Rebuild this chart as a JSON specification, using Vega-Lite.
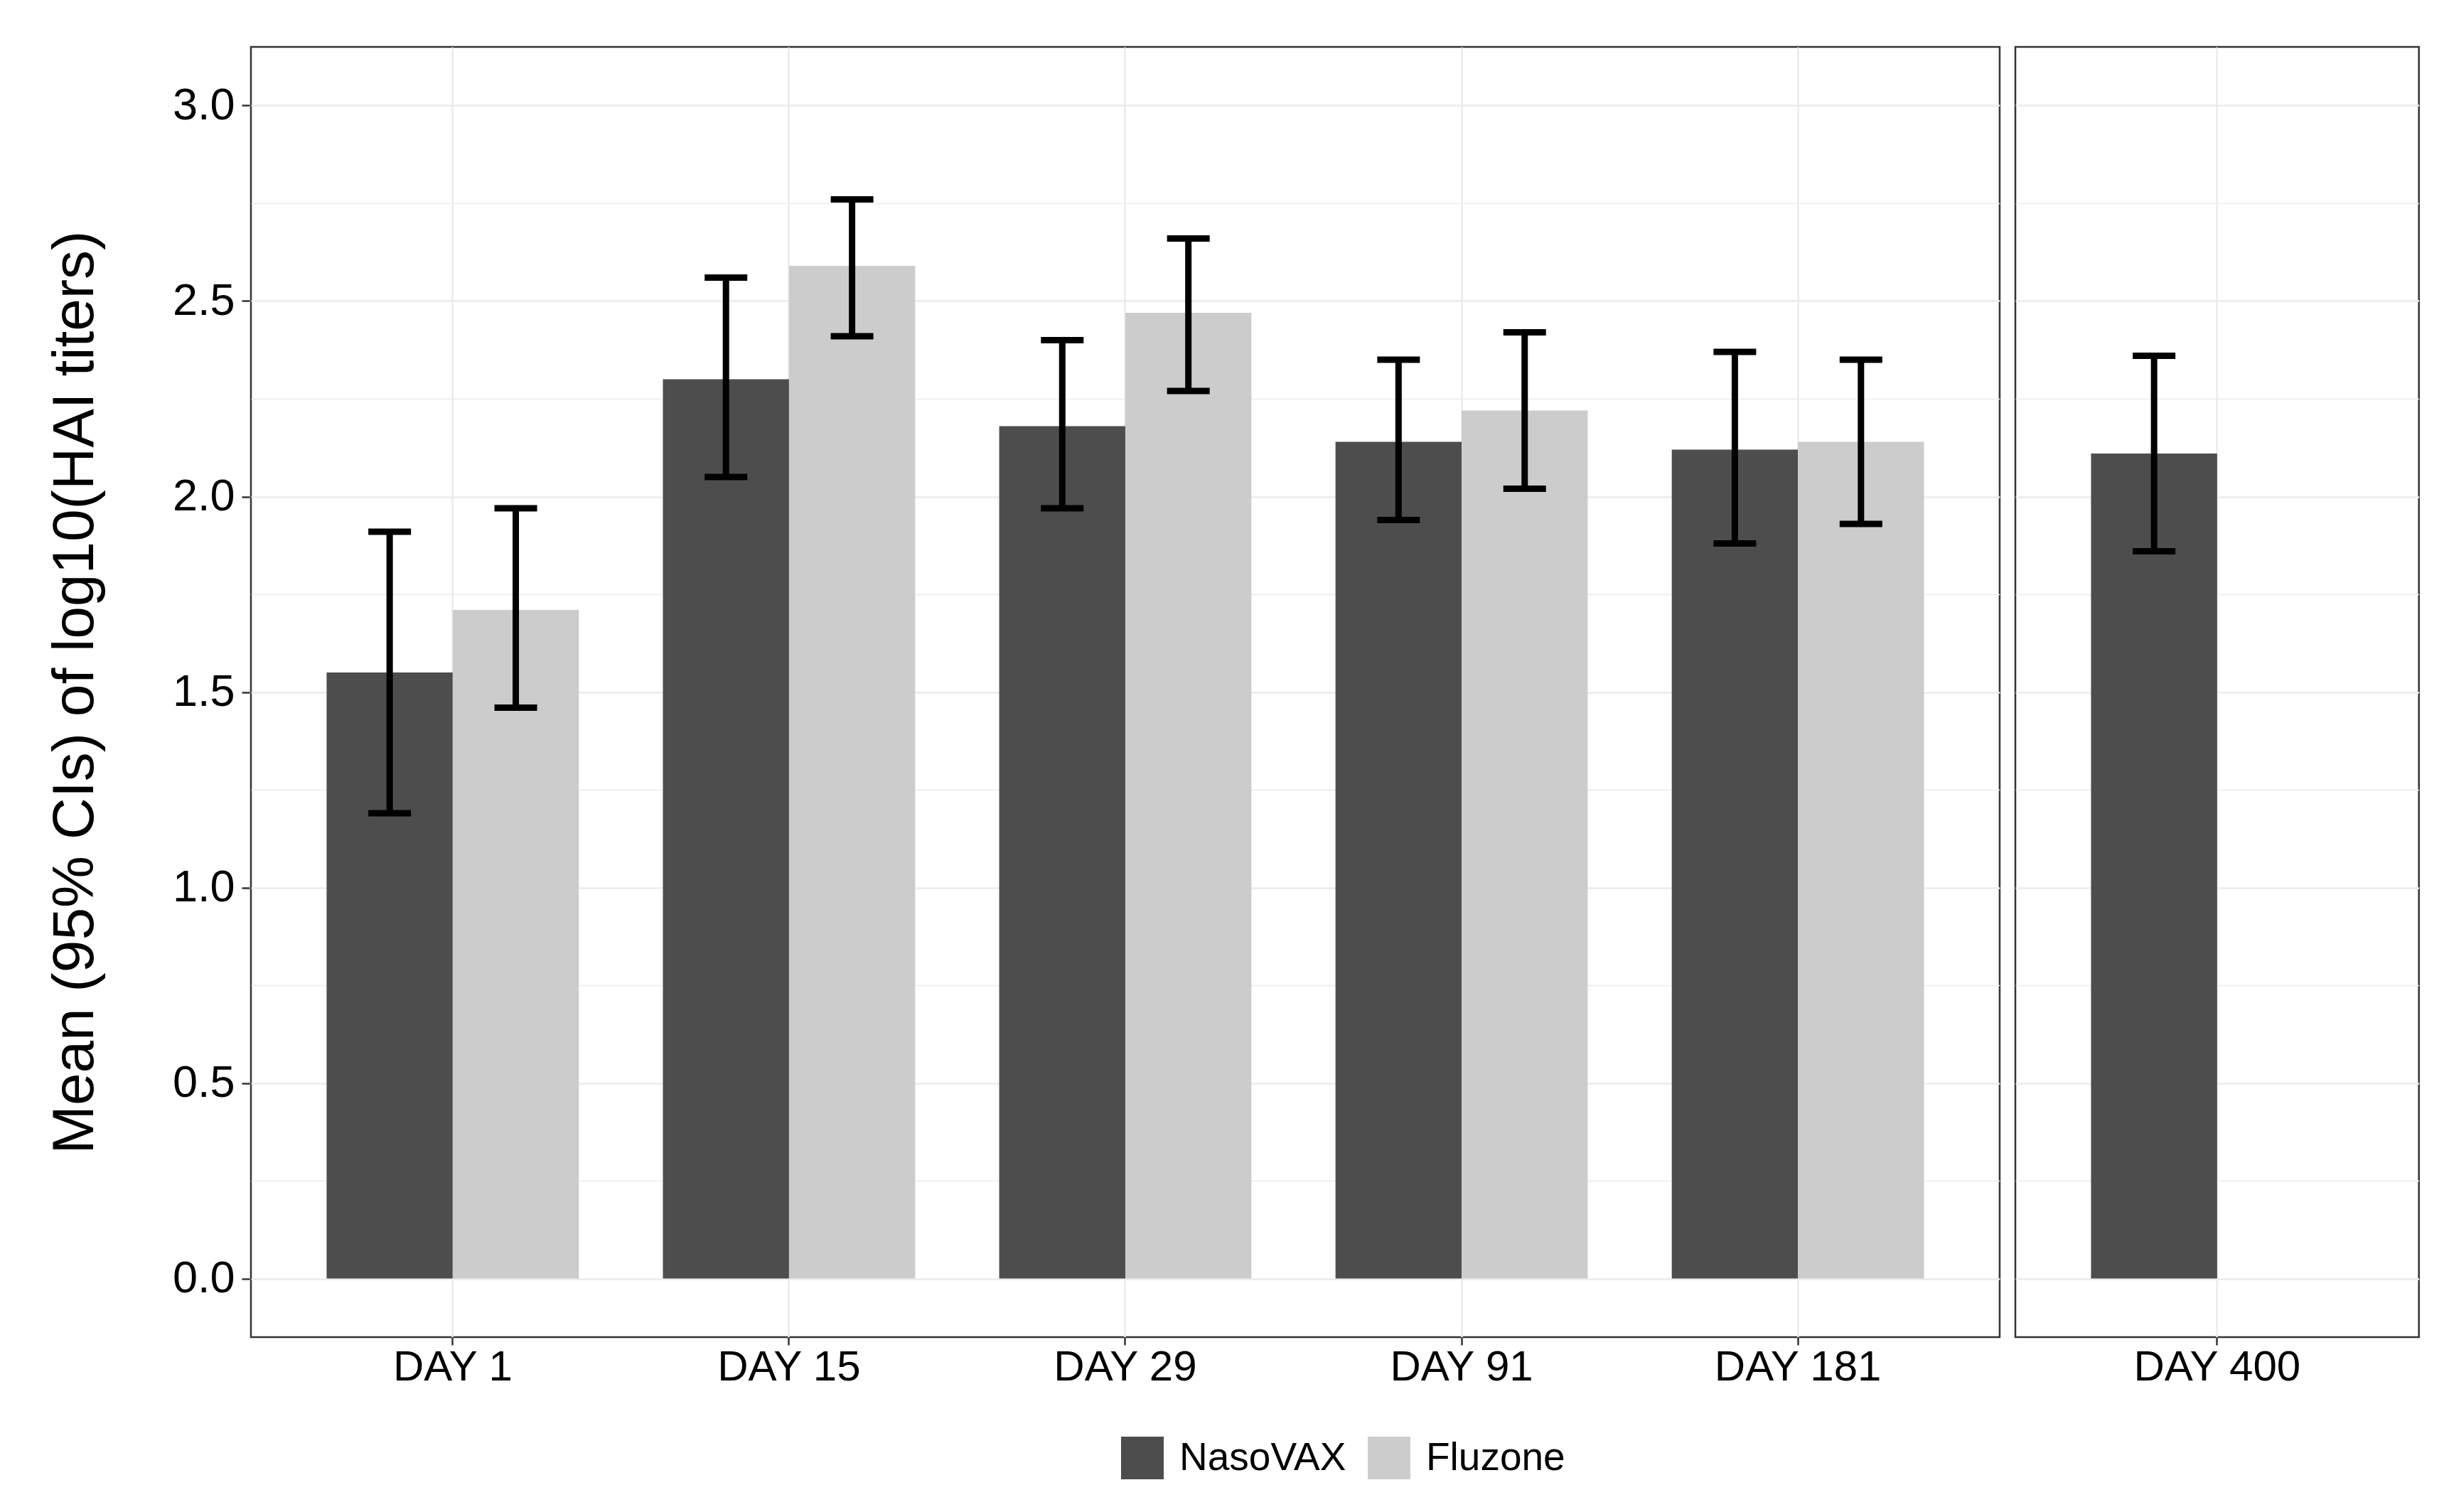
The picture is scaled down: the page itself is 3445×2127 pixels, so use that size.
{
  "$schema": "https://vega.github.io/schema/vega-lite/v6.json",
  "padding": {"left": 64, "top": 64, "right": 27, "bottom": 10},
  "background": "white",
  "data": {
    "values": [
      {"panel": "A", "day": "DAY 1", "group": "NasoVAX", "mean": 1.55, "lo": 1.19, "hi": 1.91},
      {"panel": "A", "day": "DAY 1", "group": "Fluzone", "mean": 1.71, "lo": 1.46, "hi": 1.97},
      {"panel": "A", "day": "DAY 15", "group": "NasoVAX", "mean": 2.30, "lo": 2.05, "hi": 2.56},
      {"panel": "A", "day": "DAY 15", "group": "Fluzone", "mean": 2.59, "lo": 2.41, "hi": 2.76},
      {"panel": "A", "day": "DAY 29", "group": "NasoVAX", "mean": 2.18, "lo": 1.97, "hi": 2.40},
      {"panel": "A", "day": "DAY 29", "group": "Fluzone", "mean": 2.47, "lo": 2.27, "hi": 2.66},
      {"panel": "A", "day": "DAY 91", "group": "NasoVAX", "mean": 2.14, "lo": 1.94, "hi": 2.35},
      {"panel": "A", "day": "DAY 91", "group": "Fluzone", "mean": 2.22, "lo": 2.02, "hi": 2.42},
      {"panel": "A", "day": "DAY 181", "group": "NasoVAX", "mean": 2.12, "lo": 1.88, "hi": 2.37},
      {"panel": "A", "day": "DAY 181", "group": "Fluzone", "mean": 2.14, "lo": 1.93, "hi": 2.35},
      {"panel": "B", "day": "DAY 400", "group": "NasoVAX", "mean": 2.11, "lo": 1.86, "hi": 2.36}
    ]
  },
  "facet": {
    "column": {"field": "panel", "type": "nominal", "title": null, "header": {"labels": false, "title": null}}
  },
  "spacing": 18,
  "resolve": {"scale": {"x": "independent"}},
  "spec": {
    "width": {"step": 177.4},
    "height": 1815,
    "encoding": {
      "x": {
        "field": "day",
        "type": "nominal",
        "sort": ["DAY 1", "DAY 15", "DAY 29", "DAY 91", "DAY 181", "DAY 400"],
        "scale": {"paddingInner": 0.25, "paddingOuter": 0.225},
        "axis": {
          "title": null,
          "labelAngle": 0,
          "grid": true,
          "bandPosition": 0.5,
          "domain": false,
          "tickSize": 11,
          "labelPadding": 2,
          "labelFontSize": 60,
          "labelLimit": 0
        }
      },
      "xOffset": {"field": "group", "type": "nominal", "scale": {"domain": ["NasoVAX", "Fluzone"]}}
    },
    "layer": [
      {
        "mark": {"type": "bar"},
        "encoding": {
          "y": {
            "field": "mean",
            "type": "quantitative",
            "title": "Mean (95% CIs) of log10(HAI titers)",
            "scale": {"domain": [-0.15, 3.15], "nice": false, "zero": false},
            "axis": {
              "values": [0, 0.25, 0.5, 0.75, 1, 1.25, 1.5, 1.75, 2, 2.25, 2.5, 2.75, 3],
              "labelExpr": "datum.value % 0.5 === 0 ? format(datum.value, '.1f') : ''",
              "gridWidth": {"condition": {"test": "datum.value % 0.5 === 0", "value": 2.5}, "value": 1.3},
              "tickOpacity": {"condition": {"test": "datum.value % 0.5 === 0", "value": 1}, "value": 0},
              "domain": false,
              "tickSize": 11,
              "labelPadding": 10,
              "labelFontSize": 63,
              "titleFontSize": 82,
              "titlePadding": 95
            }
          },
          "color": {
            "field": "group",
            "type": "nominal",
            "scale": {"domain": ["NasoVAX", "Fluzone"], "range": ["#4D4D4D", "#CCCCCC"]},
            "legend": {
              "orient": "none",
              "legendX": 1224,
              "legendY": 1955,
              "direction": "horizontal",
              "title": null,
              "symbolType": "square",
              "symbolSize": 3600,
              "symbolStrokeWidth": 0,
              "symbolOpacity": 1,
              "labelFontSize": 55,
              "labelOffset": 22,
              "labelLimit": 0,
              "columnPadding": 30
            }
          }
        }
      },
      {
        "mark": {"type": "rule", "strokeWidth": 9, "color": "#000000"},
        "encoding": {
          "y": {"field": "lo", "type": "quantitative", "title": "Mean (95% CIs) of log10(HAI titers)"},
          "y2": {"field": "hi"}
        }
      },
      {
        "mark": {"type": "tick", "size": 60, "thickness": 9, "color": "#000000", "opacity": 1},
        "encoding": {
          "y": {"field": "lo", "type": "quantitative", "title": "Mean (95% CIs) of log10(HAI titers)"}
        }
      },
      {
        "mark": {"type": "tick", "size": 60, "thickness": 9, "color": "#000000", "opacity": 1},
        "encoding": {
          "y": {"field": "hi", "type": "quantitative", "title": "Mean (95% CIs) of log10(HAI titers)"}
        }
      }
    ]
  },
  "config": {
    "font": "Liberation Sans",
    "view": {"stroke": "#333333", "strokeWidth": 2.5},
    "axis": {
      "labelFont": "Liberation Sans",
      "titleFont": "Liberation Sans",
      "labelColor": "#000000",
      "titleColor": "#000000",
      "titleFontWeight": "normal",
      "gridColor": "#EBEBEB",
      "gridWidth": 2.5,
      "tickColor": "#333333",
      "tickWidth": 2.5
    },
    "legend": {"labelFont": "Liberation Sans", "labelColor": "#000000"}
  }
}
